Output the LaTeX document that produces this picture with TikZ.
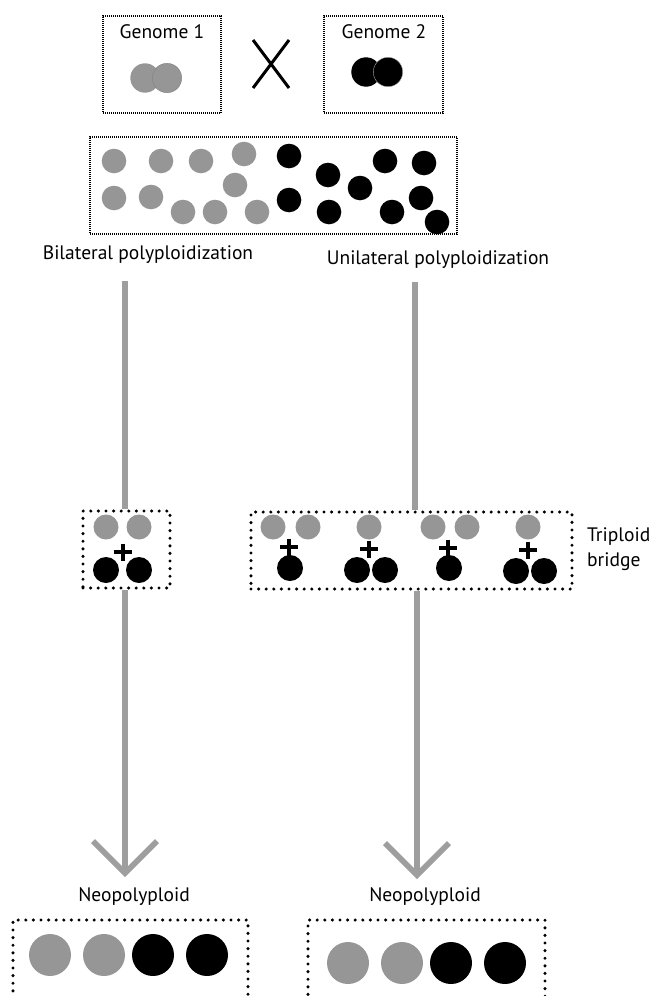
\documentclass[tikz,border=0pt]{standalone}
\usepackage{fontspec}
\setmainfont{PT Sans}
\usepackage{xcolor}
\usetikzlibrary{arrows.meta}

\definecolor{chromgray}{RGB}{150,150,150}
\definecolor{shaftgray}{RGB}{158,158,158}

\begin{document}
\begin{tikzpicture}[x=1pt,y=-1pt,
  finebox/.style={draw, dash pattern=on 1pt off 1pt, line width=1.2pt, inner sep=0pt},
  dotbox/.style={draw, line width=3.4pt, dash pattern=on 0pt off 7.6pt, line cap=round, inner sep=0pt},
  lbl/.style={font=\fontsize{19.5}{25}\selectfont, inner sep=0pt},
  shaft/.style={draw=shaftgray, line width=5.5pt},
  plusmark/.style={line width=3.2pt}]
\clip (0,0) rectangle (652,996);

% parental genomes
\node[finebox, minimum width=118pt, minimum height=97pt] (genA) at (162,64.5) {};
\node[finebox, minimum width=119pt, minimum height=97pt] (genB) at (383.5,64.5) {};
\node[lbl] (genAlbl) at (162,32) {Genome 1};
\node[lbl] (genBlbl) at (384,32) {Genome 2};
\fill[chromgray] (145,78) circle (14.7pt);
\filldraw[fill=chromgray, draw=chromgray!85!black, line width=0.4pt] (167,78) circle (14.7pt);
\fill[black] (366,72) circle (14.7pt);
\filldraw[fill=black, draw=gray!70, line width=0.4pt] (388,72) circle (14.7pt);

% cross
\draw[line width=3pt] (253,40) -- (289,88) (289,40) -- (253,88);

% hybrid with many chromosomes
\node[finebox, minimum width=367pt, minimum height=97pt] (hybrid) at (273.5,185.5) {};
\foreach \x/\y in {114/161,161/161,201/161,244/154,114/198,151/197,183/212,215/212,235/185,257/212}
    \fill[chromgray] (\x,\y) circle (12.3pt);
\foreach \x/\y in {289/156,289/200,328/175,360/188,329/212,385/161,424/163,392/212,421/198,437/222}
    \fill[black] (\x,\y) circle (12.3pt);

\node[lbl] (bilat) at (148,255) {Bilateral polyploidization};
\node[lbl] (unilat) at (438,260) {Unilateral polyploidization};
\coordinate (lstart) at (125,281);
\coordinate (rstart) at (415,282);
\coordinate (ltip) at (125,877);
\coordinate (rtip) at (417,879);

% triploid bridge
\node[dotbox, minimum width=87pt, minimum height=77pt] (triL) at (126.5,549.5) {};
\node[dotbox, minimum width=321pt, minimum height=77pt] (triR) at (411.5,550.5) {};
\node[lbl, anchor=west, align=left] (tribr) at (587,549.5) {Triploid\\bridge};
\foreach \x/\y in {106/527,139/527,273/527,308/527,369/527,433/527,467/527,528/527}
    \fill[chromgray] (\x,\y) circle (12.5pt);
\foreach \x/\y in {106/570,139/570,290/568,357/570,385/570,449/568,516/571,544/571}
    \fill[black] (\x,\y) circle (13pt);
\foreach \x/\y in {123/552,289/547,369/549,448/548,528/550}
    \draw[plusmark] (\x-9,\y) -- (\x+9,\y) (\x,\y-8.5) -- (\x,\y+8.5);

% arrows
\draw[shaft] (lstart) -- (lstart |- triL.north);
\draw[shaft] (rstart) -- (rstart |- triR.north);
\draw[shaft, -{Straight Barb[length=32pt,width=64pt]}] (ltip |- triL.south) -- (ltip);
\draw[shaft, -{Straight Barb[length=32pt,width=64pt]}] (rtip |- triR.south) -- (rtip);

% neopolyploids
\node[lbl] (neoL) at (134,897) {Neopolyploid};
\node[lbl] (neoR) at (425,897) {Neopolyploid};
\node[dotbox, minimum width=235pt, minimum height=90pt] (neoLbox) at (130.5,965) {};
\node[dotbox, minimum width=237pt, minimum height=90pt] (neoRbox) at (426.5,965) {};
\foreach \x in {50,104}
    \fill[chromgray] (\x,955) circle (21pt);
\foreach \x in {153,207}
    \fill[black] (\x,955) circle (21pt);
\foreach \x in {348,402}
    \fill[chromgray] (\x,963) circle (21pt);
\foreach \x in {451,505}
    \fill[black] (\x,963) circle (21pt);

\end{tikzpicture}
\end{document}
